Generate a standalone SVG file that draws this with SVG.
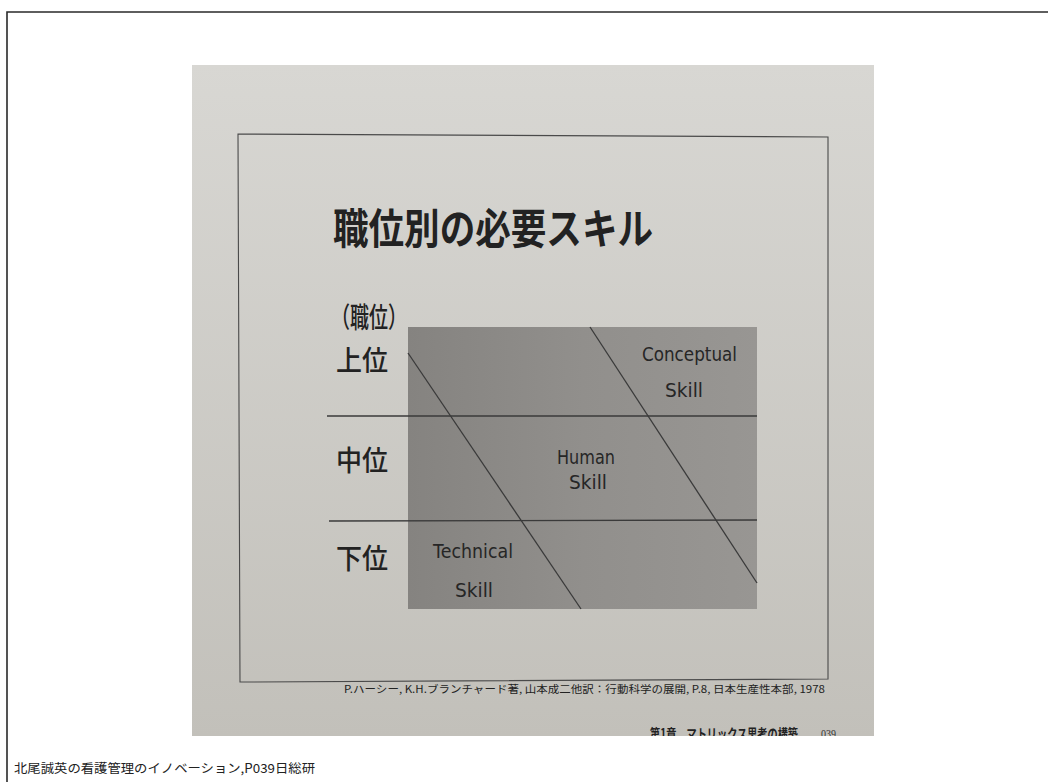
<svg xmlns="http://www.w3.org/2000/svg" width="1048" height="782" viewBox="0 0 1048 782">
<defs>
<style>
.jp{font-family:"Noto Sans CJK JP","Noto Sans",sans-serif;fill:#222}
.en{font-family:"DejaVu Sans","Noto Sans",sans-serif;font-size:19px;fill:#262626}
.rule{stroke:#3a3a3a;stroke-width:1.3;fill:none}
</style>
<linearGradient id="paper" x1="0" y1="0" x2="0" y2="1">
<stop offset="0" stop-color="#d8d7d3"/>
<stop offset="1" stop-color="#c2c0ba"/>
</linearGradient>
<linearGradient id="box" x1="0" y1="0" x2="1" y2="0">
<stop offset="0" stop-color="#858380"/>
<stop offset="0.5" stop-color="#918f8c"/>
<stop offset="1" stop-color="#989693"/>
</linearGradient>
<clipPath id="photoClip"><rect x="192" y="65" width="682" height="671"/></clipPath>
</defs>
<rect width="1048" height="782" fill="#ffffff"/>
<path d="M7,790 V12 H1060" fill="none" stroke="#2a2a2a" stroke-width="1.6"/>
<g id="photo" clip-path="url(#photoClip)">
<rect x="192" y="65" width="682" height="671" fill="url(#paper)"/>
<path d="M238,134 L828,137 L828,679 L240,682 Z" fill="none" stroke="#4a4a4a" stroke-width="1.1"/>
<text class="jp" x="333" y="244" font-size="42" font-weight="bold" textLength="320" lengthAdjust="spacingAndGlyphs">職位別の必要スキル</text>
<text class="jp" x="331" y="328" font-size="28" font-weight="500" textLength="76" lengthAdjust="spacingAndGlyphs">（職位）</text>
<g id="chart">
<rect x="408" y="327" width="349" height="282" fill="url(#box)"/>
<line class="rule" x1="327" y1="416" x2="757" y2="416"/>
<line class="rule" x1="329" y1="521" x2="757" y2="520"/>
<line class="rule" x1="408" y1="353" x2="581" y2="609"/>
<line class="rule" x1="590" y1="327" x2="757" y2="583"/>
</g>
<g id="levels">
<text class="jp" x="336" y="371" font-size="28" font-weight="500" textLength="52" lengthAdjust="spacingAndGlyphs">上位</text>
<text class="jp" x="336" y="471" font-size="28" font-weight="500" textLength="52" lengthAdjust="spacingAndGlyphs">中位</text>
<text class="jp" x="336" y="569" font-size="28" font-weight="500" textLength="52" lengthAdjust="spacingAndGlyphs">下位</text>
</g>
<g id="conceptual">
<text class="en" x="642" y="361" textLength="95" lengthAdjust="spacingAndGlyphs">Conceptual</text>
<text class="en" x="665" y="397" textLength="38" lengthAdjust="spacingAndGlyphs">Skill</text>
</g>
<g id="human">
<text class="en" x="557" y="464" textLength="58" lengthAdjust="spacingAndGlyphs">Human</text>
<text class="en" x="569" y="489" textLength="38" lengthAdjust="spacingAndGlyphs">Skill</text>
</g>
<g id="technical">
<text class="en" x="433" y="558" textLength="80" lengthAdjust="spacingAndGlyphs">Technical</text>
<text class="en" x="455" y="597" textLength="38" lengthAdjust="spacingAndGlyphs">Skill</text>
</g>
<text class="jp" x="344" y="693" font-size="10.5" fill="#333" textLength="481" lengthAdjust="spacingAndGlyphs">P.ハーシー, K.H.ブランチャード著, 山本成二他訳：行動科学の展開, P.8, 日本生産性本部, 1978</text>
<text class="jp" x="650" y="739" font-size="14" font-weight="bold" textLength="148" lengthAdjust="spacingAndGlyphs">第1章　マトリックス思考の構築</text>
<text x="821" y="738" font-family="Liberation Serif,serif" font-size="12" fill="#333" textLength="15" lengthAdjust="spacingAndGlyphs">039</text>
</g>
<text class="jp" x="14" y="773" font-size="12.5" fill="#222" textLength="301" lengthAdjust="spacingAndGlyphs">北尾誠英の看護管理のイノベーション,P039日総研</text>
</svg>
